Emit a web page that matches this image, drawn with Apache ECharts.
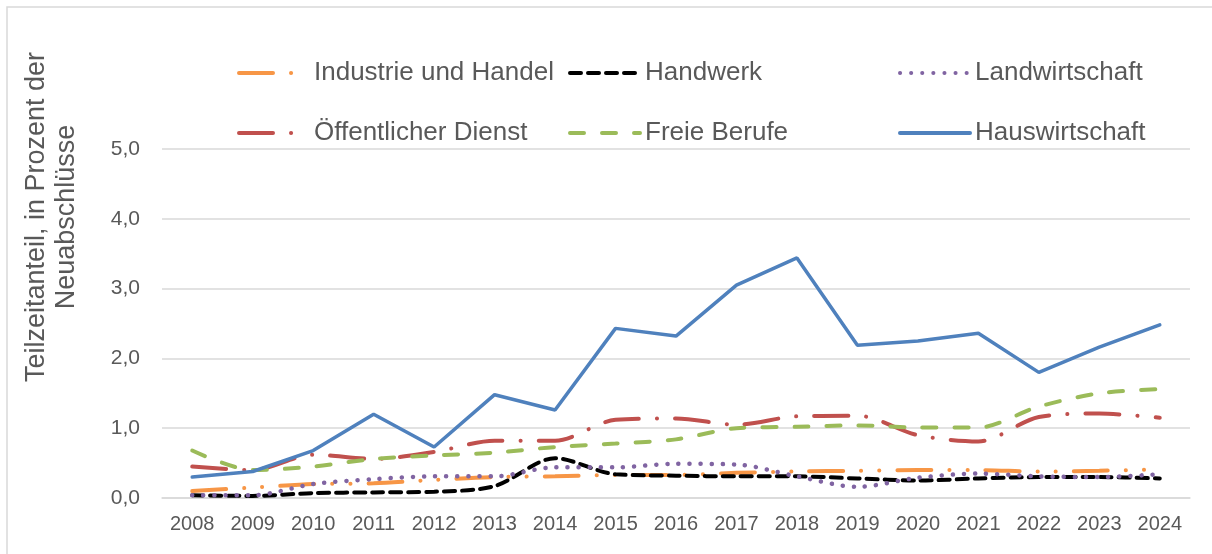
<!DOCTYPE html>
<html>
<head>
<meta charset="utf-8">
<script src="https://cdn.jsdelivr.net/npm/echarts@6/dist/echarts.min.js"></script>
<style>
  html, body { margin: 0; padding: 0; background: #fff; }
  #chart { width: 1212px; height: 554px; }
</style>
</head>
<body>
<div id="chart"></div>
<script>
var years = ['2008','2009','2010','2011','2012','2013','2014','2015','2016','2017','2018','2019','2020','2021','2022','2023','2024'];
var yTicks = [0, 1, 2, 3, 4, 5];

var industrie = [0.10, 0.15, 0.20, 0.21, 0.26, 0.30, 0.31, 0.33, 0.33, 0.36, 0.38, 0.39, 0.40, 0.40, 0.38, 0.39, 0.41];
var handwerk = [0.04, 0.03, 0.07, 0.08, 0.09, 0.17, 0.57, 0.34, 0.32, 0.31, 0.31, 0.28, 0.25, 0.28, 0.30, 0.30, 0.28];
var landwirtschaft = [0.04, 0.04, 0.20, 0.27, 0.31, 0.31, 0.44, 0.44, 0.49, 0.48, 0.31, 0.16, 0.29, 0.35, 0.31, 0.30, 0.34];
var oeffentlich = [0.45, 0.40, 0.62, 0.56, 0.66, 0.82, 0.82, 1.12, 1.14, 1.05, 1.17, 1.18, 0.90, 0.81, 1.16, 1.21, 1.15];
var freieBerufe = [0.68, 0.40, 0.45, 0.56, 0.61, 0.65, 0.73, 0.78, 0.84, 1.00, 1.02, 1.04, 1.01, 1.01, 1.31, 1.50, 1.56];
var hauswirtschaft = [0.30, 0.38, 0.68, 1.20, 0.73, 1.48, 1.26, 2.43, 2.32, 3.05, 3.44, 2.19, 2.25, 2.36, 1.80, 2.16, 2.48];

var seriesNames = ['Industrie und Handel', 'Handwerk', 'Landwirtschaft', 'Öffentlicher Dienst', 'Freie Berufe', 'Hauswirtschaft'];

var chart = echarts.init(document.getElementById('chart'));

var textCol = '#595959';
var font = "'Liberation Sans', sans-serif";

function makeLegend(name, left, top) {
    return {
        data: [name],
        left: left,
        top: top,
        itemWidth: 70,
        itemHeight: 14,
        itemStyle: { opacity: 0 },
        lineStyle: { width: 4 },
        textStyle: { color: textCol, fontSize: 26, fontFamily: font }
    };
}

function line(name, data, color, type, width, smooth) {
    return {
        name: name,
        type: 'line',
        data: data,
        smooth: smooth,
        symbol: 'none',
        color: color,
        lineStyle: { color: color, width: width, type: type, cap: 'round' }
    };
}

var option = {
    animation: false,
    backgroundColor: '#fff',
    graphic: [{
        type: 'rect',
        shape: { x: 7, y: 7, width: 1215, height: 560 },
        style: { fill: 'none', stroke: '#d9d9d9', lineWidth: 1.5 },
        silent: true
    }, {
        type: 'text',
        x: 52, y: 217,
        rotation: Math.PI / 2,
        style: {
            text: 'Teilzeitanteil, in Prozent der\nNeuabschlüsse',
            fill: textCol,
            font: "27px 'Liberation Sans', sans-serif",
            lineHeight: 30,
            align: 'center',
            verticalAlign: 'middle'
        },
        silent: true
    }],
    legend: [
        makeLegend(seriesNames[0], 232, 55),
        makeLegend(seriesNames[1], 563, 55),
        makeLegend(seriesNames[2], 893, 55),
        makeLegend(seriesNames[3], 232, 115),
        makeLegend(seriesNames[4], 563, 115),
        makeLegend(seriesNames[5], 893, 115)
    ],
    grid: { left: 162, right: 22, top: 149, bottom: 56 },
    xAxis: {
        type: 'category',
        data: years,
        boundaryGap: true,
        axisLine: { lineStyle: { color: '#d9d9d9', width: 1.5 } },
        axisTick: { show: false },
        axisLabel: { color: textCol, fontSize: 20, fontFamily: font, margin: 16 }
    },
    yAxis: {
        type: 'value',
        min: yTicks[0],
        max: yTicks[yTicks.length - 1],
        interval: 1,
        axisLine: { show: false },
        axisTick: { show: false },
        splitLine: { lineStyle: { color: '#d9d9d9', width: 1.5 } },
        axisLabel: {
            color: textCol, fontSize: 21, fontFamily: font, margin: 22,
            formatter: function (v) { return v.toFixed(1).replace('.', ','); }
        }
    },
    series: [
        line(seriesNames[0], industrie, '#F79646', [34, 18, 0.1, 18, 0.1, 18], 4, 0.3),
        line(seriesNames[1], handwerk, '#000000', [11, 7], 4, 0.3),
        line(seriesNames[2], landwirtschaft, '#8064A2', [0.1, 11], 4.5, 0.3),
        line(seriesNames[3], oeffentlich, '#C0504D', [34, 18, 0.1, 18], 4, 0.3),
        line(seriesNames[4], freieBerufe, '#9BBB59', [14, 18], 4, 0.3),
        line(seriesNames[5], hauswirtschaft, '#4F81BD', 'solid', 3.5, false)
    ]
};

chart.setOption(option);
</script>
</body>
</html>
